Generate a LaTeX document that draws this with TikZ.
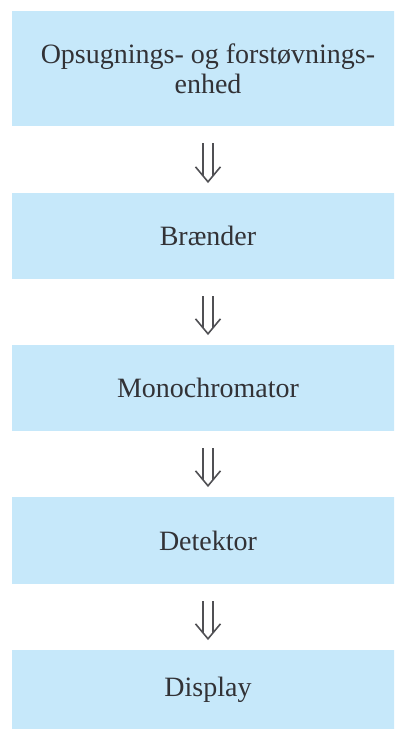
\documentclass[tikz,border=0pt]{standalone}
\usepackage{fontspec}
\setmainfont{Liberation Serif}
\usetikzlibrary{calc}
\definecolor{boxblue}{RGB}{198,232,250}
\definecolor{inkgray}{RGB}{50,50,54}
\definecolor{arrowgray}{RGB}{80,80,84}
\tikzset{
  stage/.style={fill=boxblue, draw=none, minimum width=392pt, inner sep=0pt,
    text=inkgray, align=center, font=\fontsize{28}{30}\selectfont},
  shaft/.style={draw=arrowgray, line width=1.6pt, double, double distance=8pt,
    shorten <=17pt, shorten >=17pt},
  chevron/.style={draw=arrowgray, line width=1.6pt, line join=miter}
}
% downward double arrow between two stacked stages
\newcommand\flowarrow[2]{%
  \draw[shaft] (#1.south) -- (#2.north);
  \draw[chevron] ($(#2.north)+(-12.5,-26)$) -- ($(#2.north)+(0,-11)$) -- ($(#2.north)+(12.5,-26)$);
}
\begin{document}
\begin{tikzpicture}[x=1pt,y=-1pt]
  \useasboundingbox (0,0) rectangle (394,729);
  \clip (0,0) rectangle (394,729);
  \node[stage, minimum height=115pt] (s1) at (208,68.5) {Opsugnings- og forstøvnings-\\enhed};
  \node[stage, minimum height=86pt] (s2) at (208,236) {Brænder};
  \node[stage, minimum height=86pt] (s3) at (208,388) {Monochromator};
  \node[stage, minimum height=87pt] (s4) at (208,540.5) {Detektor};
  \node[stage, minimum height=80pt] (s5) at (208,690) {Display};
  \flowarrow{s1}{s2}
  \flowarrow{s2}{s3}
  \flowarrow{s3}{s4}
  \flowarrow{s4}{s5}
\end{tikzpicture}
\end{document}
